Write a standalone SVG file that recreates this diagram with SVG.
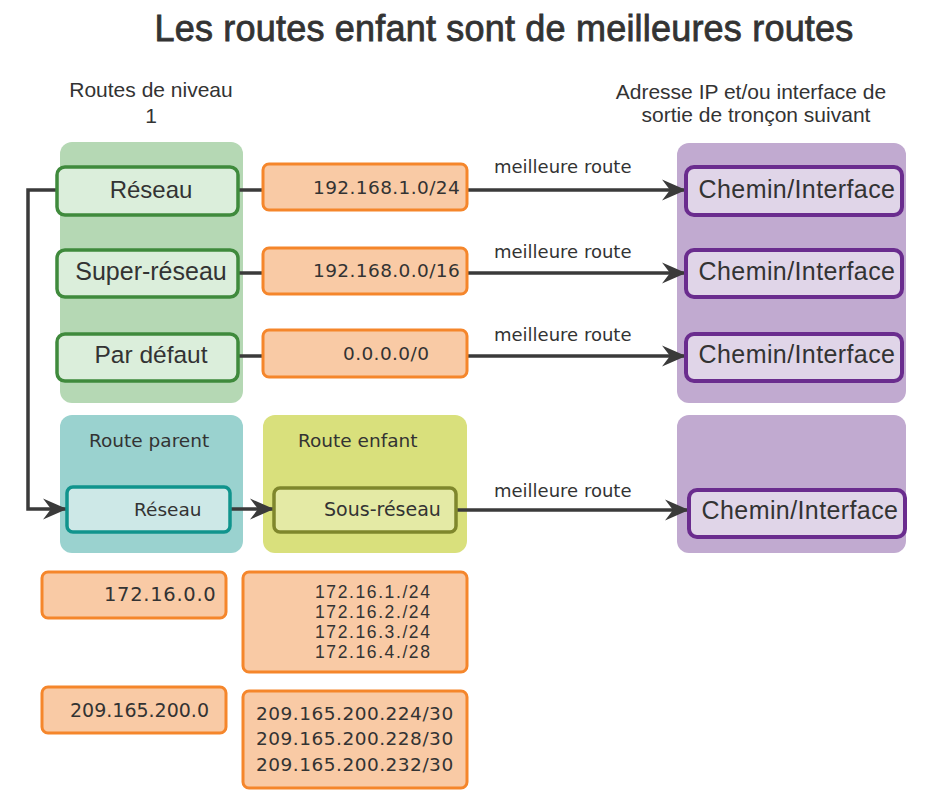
<svg xmlns="http://www.w3.org/2000/svg" width="940" height="812" viewBox="0 0 940 812">
<style>
.t{font-family:"Liberation Sans",Arial,sans-serif;fill:#333}
.s{font-family:"DejaVu Sans","Liberation Sans",sans-serif;fill:#333}
.bgG{fill:#b5d8b4}
.bgP{fill:#c1aad0}
.bgT{fill:#9ad2cf}
.bgY{fill:#d9e07c}
.nG{fill:#dbeedb;stroke:#3f8a3c;stroke-width:3.5}
.nP{fill:#e0d5e8;stroke:#6a2c8e;stroke-width:4}
.nT{fill:#cde8e7;stroke:#10948d;stroke-width:3.5}
.nY{fill:#e4eaa5;stroke:#7f872c;stroke-width:3.5}
.nO{fill:#f9caa5;stroke:#f5862b;stroke-width:3}
.c{fill:none;stroke:#3a3a3a;stroke-width:3.5}
.ca{fill:none;stroke:#3a3a3a;stroke-width:3.5;marker-end:url(#ah)}
</style>
<defs>
<marker id="ah" markerUnits="userSpaceOnUse" markerWidth="26" markerHeight="24" refX="24" refY="12" orient="auto" overflow="visible">
<path d="M24,12 L0,1.5 L8,12 L0,22.5 Z" fill="#3a3a3a"/>
</marker>
</defs>

<g id="title">
<text class="t" x="504" y="41" font-size="36" text-anchor="middle" stroke="#333" stroke-width="0.8" letter-spacing="0.2">Les routes enfant sont de meilleures routes</text>
</g>

<g id="headers">
<text class="t" x="151" y="97" font-size="21" text-anchor="middle">Routes de niveau</text>
<text class="t" x="151" y="123" font-size="21" text-anchor="middle">1</text>
<text class="t" x="751" y="99" font-size="21" text-anchor="middle">Adresse IP et/ou interface de</text>
<text class="t" x="756" y="122" font-size="21" text-anchor="middle">sortie de tronçon suivant</text>
</g>

<g id="backgrounds">
<rect class="bgG" x="60" y="142" width="183" height="261" rx="12"/>
<rect class="bgP" x="677" y="143" width="229" height="260" rx="12"/>
<rect class="bgT" x="60" y="415" width="183" height="138" rx="12"/>
<rect class="bgY" x="263" y="415" width="204" height="138" rx="12"/>
<rect class="bgP" x="677" y="415" width="229" height="138" rx="12"/>
</g>

<g id="connectors">
<polyline class="ca" points="57,190 28,190 28,509 67,509"/>
<line class="c" x1="238" y1="190" x2="263" y2="190"/>
<line class="c" x1="238" y1="273" x2="263" y2="273"/>
<line class="c" x1="238" y1="356" x2="263" y2="356"/>
<line class="ca" x1="467" y1="190" x2="686" y2="190"/>
<line class="ca" x1="467" y1="273" x2="686" y2="273"/>
<line class="ca" x1="467" y1="356" x2="686" y2="356"/>
<line class="ca" x1="230" y1="509" x2="274" y2="509"/>
<line class="ca" x1="456" y1="510" x2="689" y2="510"/>
<text class="s" x="494" y="173" font-size="18">meilleure route</text>
<text class="s" x="494" y="258" font-size="18">meilleure route</text>
<text class="s" x="494" y="341" font-size="18">meilleure route</text>
<text class="s" x="494" y="497" font-size="18">meilleure route</text>
</g>

<g id="node-reseau">
<rect class="nG" x="57" y="167" width="181" height="48" rx="8"/>
<text class="t" x="151" y="198" font-size="24" text-anchor="middle">Réseau</text>
</g>
<g id="node-super-reseau">
<rect class="nG" x="57" y="250" width="181" height="47" rx="8"/>
<text class="t" x="151" y="280" font-size="25" text-anchor="middle">Super-réseau</text>
</g>
<g id="node-par-defaut">
<rect class="nG" x="57" y="334" width="181" height="47" rx="8"/>
<text class="t" x="151" y="363" font-size="24.5" text-anchor="middle">Par défaut</text>
</g>

<g id="ip-192-168-1-0">
<rect class="nO" x="263" y="164" width="204" height="46" rx="6"/>
<text class="s" x="313" y="194" font-size="18.5" letter-spacing="0.4">192.168.1.0/24</text>
</g>
<g id="ip-192-168-0-0">
<rect class="nO" x="263" y="248" width="204" height="46" rx="6"/>
<text class="s" x="313" y="277" font-size="18.5" letter-spacing="0.4">192.168.0.0/16</text>
</g>
<g id="ip-0-0-0-0">
<rect class="nO" x="263" y="330" width="204" height="47" rx="6"/>
<text class="s" x="343" y="360" font-size="18.5" letter-spacing="0.4">0.0.0.0/0</text>
</g>

<g id="chemin-1">
<rect class="nP" x="686" y="167" width="216" height="48" rx="8"/>
<text class="t" x="797" y="198" font-size="25" letter-spacing="0.4" text-anchor="middle">Chemin/Interface</text>
</g>
<g id="chemin-2">
<rect class="nP" x="686" y="250" width="216" height="47" rx="8"/>
<text class="t" x="797" y="280" font-size="25" letter-spacing="0.4" text-anchor="middle">Chemin/Interface</text>
</g>
<g id="chemin-3">
<rect class="nP" x="686" y="334" width="216" height="47" rx="8"/>
<text class="t" x="797" y="363" font-size="25" letter-spacing="0.4" text-anchor="middle">Chemin/Interface</text>
</g>
<g id="chemin-4">
<rect class="nP" x="689" y="490" width="216" height="47" rx="8"/>
<text class="t" x="800" y="519" font-size="25" letter-spacing="0.4" text-anchor="middle">Chemin/Interface</text>
</g>

<g id="route-parent">
<text class="s" x="89" y="447" font-size="18.5">Route parent</text>
<rect class="nT" x="67" y="487" width="163" height="45" rx="6"/>
<text class="s" x="134" y="516" font-size="18.5">Réseau</text>
</g>
<g id="route-enfant">
<text class="s" x="298" y="447" font-size="18.5">Route enfant</text>
<rect class="nY" x="274" y="488" width="182" height="44" rx="6"/>
<text class="s" x="324" y="516" font-size="19">Sous-réseau</text>
</g>

<g id="ex-172-16-0-0">
<rect class="nO" x="42" y="572" width="184" height="46" rx="6"/>
<text class="s" x="104" y="601" font-size="19.5" letter-spacing="0.7">172.16.0.0</text>
</g>
<g id="ex-172-16-subnets">
<rect class="nO" x="243" y="572" width="224" height="100" rx="6"/>
<text class="t" x="315" y="598" font-size="17.5" letter-spacing="1.6">172.16.1./24</text>
<text class="t" x="315" y="618" font-size="17.5" letter-spacing="1.6">172.16.2./24</text>
<text class="t" x="315" y="638" font-size="17.5" letter-spacing="1.6">172.16.3./24</text>
<text class="t" x="315" y="658" font-size="17.5" letter-spacing="1.6">172.16.4./28</text>
</g>
<g id="ex-209-165-200-0">
<rect class="nO" x="42" y="687" width="184" height="46" rx="6"/>
<text class="s" x="70" y="717" font-size="19">209.165.200.0</text>
</g>
<g id="ex-209-subnets">
<rect class="nO" x="243" y="691" width="224" height="97" rx="6"/>
<text class="s" x="256" y="720" font-size="18.5" letter-spacing="0.5">209.165.200.224/30</text>
<text class="s" x="256" y="745" font-size="18.5" letter-spacing="0.5">209.165.200.228/30</text>
<text class="s" x="256" y="771" font-size="18.5" letter-spacing="0.5">209.165.200.232/30</text>
</g>
</svg>
